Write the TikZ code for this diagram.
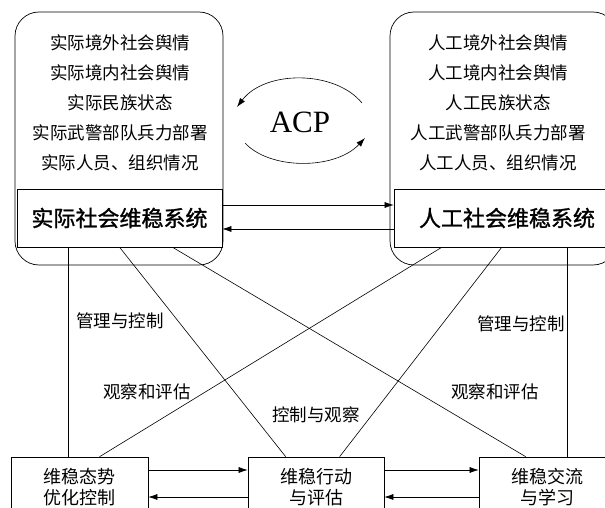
\documentclass[tikz,border=0pt]{standalone}
\usepackage{fontspec}
\setmainfont{Liberation Serif}
\newfontfamily\cjk{Noto Sans CJK SC}
\newfontfamily\cjkheavy[FakeBold=1.2]{Noto Sans CJK SC}
\usetikzlibrary{arrows.meta}
\tikzset{
  sysbox/.style={draw,line width=0.7pt,minimum height=58pt,font=\cjkheavy\fontsize{22}{24}\selectfont},
  taskbox/.style={draw,line width=0.7pt,minimum width=137pt,minimum height=60pt,align=center,font=\cjk\fontsize{18}{21}\selectfont},
  lbl/.style={font=\cjk\fontsize{17.5}{20}\selectfont},
  link/.style={line width=0.6pt},
  flow/.style={line width=0.6pt,-{Latex[length=9pt,width=6pt]}}
}
\begin{document}
\begin{tikzpicture}[x=1pt,y=-1pt]
\useasboundingbox (0,0) rectangle (605,508);
\draw[line width=0.7pt,rounded corners=24pt] (15,12) rectangle (223,265);
\draw[line width=0.7pt,rounded corners=24pt] (390,12) rectangle (617,265);
\node[align=center,font=\cjk\fontsize{17.5}{30}\selectfont] (realinfo) at (120,103) {实际境外社会舆情\\实际境内社会舆情\\实际民族状态\\实际武警部队兵力部署\\实际人员、组织情况};
\node[align=center,font=\cjk\fontsize{17.5}{30}\selectfont] (artinfo) at (498,103) {人工境外社会舆情\\人工境内社会舆情\\人工民族状态\\人工武警部队兵力部署\\人工人员、组织情况};
\node[sysbox,minimum width=205pt,fill=white] (realsys) at (119.5,218) {实际社会维稳系统};
\node[sysbox,minimum width=226pt,fill=white] (artsys) at (507,218) {人工社会维稳系统};
\node[font=\fontsize{31}{34}\selectfont] (acp) at (300,122) {ACP};
\coordinate (upa) at (362,103);
\coordinate (upb) at (237,107);
\coordinate (loa) at (245,143);
\coordinate (lob) at (365,138);
\draw[flow] (upa) .. controls (335,70) and (265,70) .. (upb);
\draw[flow] (loa) .. controls (270,170) and (335,170) .. (lob);
\draw[flow] ([yshift=13pt]realsys.east) -- ([yshift=13pt]artsys.west);
\draw[flow] ([yshift=-11pt]artsys.west) -- ([yshift=-11pt]realsys.east);
\node[taskbox] (opt) at (79.5,487) {维稳态势\\优化控制};
\node[taskbox,minimum width=136pt] (act) at (316,487) {维稳行动\\与评估};
\node[taskbox] (lrn) at (547.5,487) {维稳交流\\与学习};
\draw[flow] ([yshift=17pt]opt.east) -- ([yshift=17pt]act.west);
\draw[flow] ([yshift=-10pt]act.west) -- ([yshift=-10pt]opt.east);
\draw[flow] ([yshift=17pt]act.east) -- ([yshift=17pt]lrn.west);
\draw[flow] ([yshift=-10pt]lrn.west) -- ([yshift=-10pt]act.east);
\draw[link] ([xshift=52pt]realsys.south west) -- ([xshift=58pt]opt.north west);
\draw[link] ([xshift=103pt]realsys.south west) -- ([xshift=38pt]act.north west);
\draw[link] ([xshift=156pt]realsys.south west) -- ([xshift=47pt]lrn.north west);
\draw[link] ([xshift=48pt]artsys.south west) -- ([xshift=89pt]opt.north west);
\draw[link] ([xshift=108pt]artsys.south west) -- ([xshift=92pt]act.north west);
\draw[link] ([xshift=174pt]artsys.south west) -- ([xshift=89pt]lrn.north west);
\node[lbl] (ctrla) at (120,321) {管理与控制};
\node[lbl] (ctrlb) at (521,324) {管理与控制};
\node[lbl] (obsa) at (147,392) {观察和评估};
\node[lbl] (obsb) at (495,392) {观察和评估};
\node[lbl] (ctrlobs) at (316,415) {控制与观察};
\end{tikzpicture}
\end{document}
